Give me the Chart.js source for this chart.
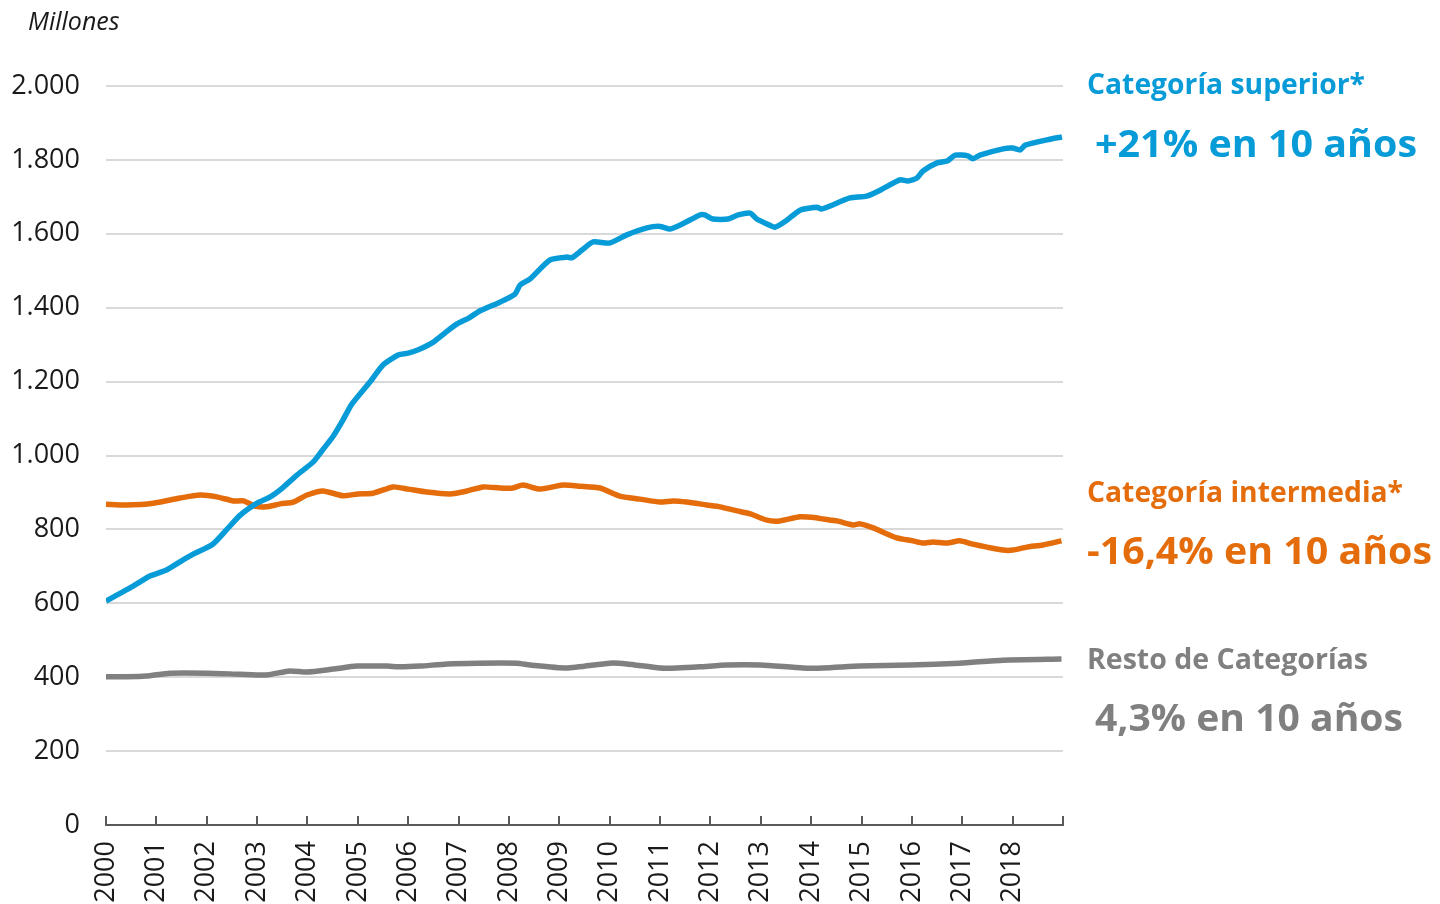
<!DOCTYPE html>
<html>
<head>
<meta charset="utf-8">
<script src="https://cdn.jsdelivr.net/npm/chart.js@4.4.1/dist/chart.umd.min.js"></script>
<style>
  html, body { margin: 0; padding: 0; background: #fff; overflow: hidden; }
  #wrap { width: 1440px; height: 904px; }
</style>
</head>
<body>
<div id="wrap"><canvas id="passengerChart"></canvas></div>
<script>
// Años de los ticks del eje X
const yearTicks = [2000, 2001, 2002, 2003, 2004, 2005, 2006, 2007, 2008, 2009,
                   2010, 2011, 2012, 2013, 2014, 2015, 2016, 2017, 2018];

// Categoría superior (millones)
const superiorYears = [2000.00, 2000.25, 2000.47, 2000.70, 2000.87, 2001.20, 2001.50, 2001.73, 2002.12, 2002.40,
  2002.66, 2003.00, 2003.26, 2003.50, 2003.79, 2004.11, 2004.30, 2004.51, 2004.70, 2004.88,
  2005.24, 2005.50, 2005.80, 2006.00, 2006.20, 2006.50, 2006.75, 2006.97, 2007.20, 2007.42,
  2007.82, 2008.12, 2008.22, 2008.42, 2008.81, 2009.15, 2009.25, 2009.45, 2009.67, 2010.00,
  2010.34, 2010.74, 2011.00, 2011.20, 2011.45, 2011.79, 2011.89, 2012.05, 2012.35, 2012.55,
  2012.79, 2012.92, 2013.10, 2013.28, 2013.50, 2013.78, 2014.12, 2014.20, 2014.37, 2014.77,
  2015.10, 2015.37, 2015.76, 2015.92, 2016.10, 2016.22, 2016.50, 2016.70, 2016.86, 2017.11,
  2017.21, 2017.35, 2017.81, 2018.00, 2018.15, 2018.25, 2018.74, 2018.98];
const superiorValues = [606, 625, 641, 660, 674, 690, 715, 733, 760, 800,
  838, 871, 888, 912, 947, 982, 1015, 1052, 1095, 1139,
  1199, 1245, 1272, 1277, 1286, 1307, 1334, 1356, 1372, 1391,
  1415, 1437, 1461, 1478, 1529, 1537, 1535, 1556, 1578, 1575,
  1597, 1616, 1620, 1613, 1627, 1651, 1651, 1640, 1640, 1651,
  1656, 1640, 1628, 1618, 1635, 1664, 1672, 1667, 1675, 1697,
  1702, 1718, 1746, 1743, 1751, 1770, 1792, 1797, 1813, 1811,
  1803, 1813, 1830, 1832, 1827, 1840, 1856, 1862];

// Categoría intermedia (millones)
const intermediaYears = [2000.00, 2000.40, 2000.94, 2001.47, 2001.87, 2002.20, 2002.53, 2002.73, 2002.96, 2003.19,
  2003.46, 2003.72, 2003.99, 2004.31, 2004.71, 2005.00, 2005.30, 2005.70, 2006.00, 2006.37,
  2006.83, 2007.17, 2007.49, 2007.82, 2008.08, 2008.28, 2008.62, 2009.07, 2009.41, 2009.81,
  2010.20, 2010.60, 2011.00, 2011.26, 2011.53, 2011.93, 2012.19, 2012.53, 2012.79, 2013.12,
  2013.38, 2013.78, 2014.12, 2014.24, 2014.51, 2014.83, 2014.97, 2015.23, 2015.70, 2016.02,
  2016.22, 2016.42, 2016.70, 2016.95, 2017.21, 2017.49, 2017.81, 2018.00, 2018.28, 2018.60,
  2018.97];
const intermediaValues = [868, 866, 871, 885, 893, 888, 877, 877, 863, 861,
  869, 874, 893, 904, 891, 896, 898, 915, 909, 901,
  896, 904, 915, 912, 912, 920, 909, 920, 917, 912,
  890, 882, 874, 877, 874, 866, 861, 850, 842, 825,
  823, 834, 831, 828, 823, 812, 815, 804, 777, 769,
  763, 766, 763, 769, 760, 752, 744, 744, 752, 758,
  769];

// Resto de categorías (millones)
const restoYears = [2000.00, 2000.40, 2000.80, 2001.27, 2002.00, 2002.66, 2003.19, 2003.65, 2003.99, 2004.51,
  2004.98, 2005.58, 2005.84, 2006.23, 2006.77, 2007.37, 2008.16, 2008.42, 2009.15, 2010.00,
  2010.34, 2011.00, 2011.33, 2011.79, 2012.33, 2012.99, 2013.84, 2014.24, 2014.97, 2015.96,
  2016.95, 2017.81, 2018.97];
const restoValues = [401, 401, 403, 411, 411, 408, 406, 417, 414, 422,
  430, 430, 428, 430, 436, 438, 438, 433, 425, 438,
  436, 425, 425, 428, 433, 433, 425, 425, 430, 433,
  438, 446, 449];

const BLUE = '#079bd8';
const ORANGE = '#e46c0a';
const GREY = '#808080';

function toPoints(xs, ys) {
  return xs.map((x, i) => ({ x: x, y: ys[i] }));
}

// Textos a la derecha del gráfico y unidad
const annotations = [
  { text: 'Categoría superior*', color: BLUE, x: 1087, y: 86, size: 28, width: 278 },
  { text: '+21% en 10 años', color: BLUE, x: 1095, y: 146, size: 38, width: 322 },
  { text: 'Categoría intermedia*', color: ORANGE, x: 1087, y: 494, size: 28, width: 316 },
  { text: '-16,4% en 10 años', color: ORANGE, x: 1087, y: 553, size: 38, width: 345 },
  { text: 'Resto de Categorías', color: GREY, x: 1087, y: 661, size: 28, width: 281 },
  { text: '4,3% en 10 años', color: GREY, x: 1095, y: 720, size: 38, width: 308 }
];

const extrasPlugin = {
  id: 'extras',
  afterDraw(chart) {
    const ctx = chart.ctx;
    const xs = chart.scales.x;
    const area = chart.chartArea;
    ctx.save();
    // marcas del eje X hacia arriba
    ctx.strokeStyle = '#595959';
    ctx.lineWidth = 2;
    for (let yr = 2000; yr <= 2019; yr++) {
      const px = Math.round(xs.getPixelForValue(yr));
      ctx.beginPath();
      ctx.moveTo(px, area.bottom - 9);
      ctx.lineTo(px, area.bottom);
      ctx.stroke();
    }
    // unidad
    ctx.fillStyle = '#1a1a1a';
    ctx.font = 'italic 25px "Open Sans"';
    ctx.textBaseline = 'middle';
    ctx.fillText('Millones', 28, 23);
    // anotaciones
    annotations.forEach(a => {
      ctx.font = 'bold ' + a.size + 'px "Open Sans"';
      ctx.fillStyle = a.color;
      const w = ctx.measureText(a.text).width;
      const s = Math.min(1.1, a.width / w);
      ctx.save();
      ctx.translate(a.x, a.y);
      ctx.scale(s, 1);
      ctx.fillText(a.text, 0, 0);
      ctx.restore();
    });
    ctx.restore();
  }
};

const ctx = document.getElementById('passengerChart').getContext('2d');

const passengerChart = new Chart(ctx, {
  type: 'line',
  data: {
    datasets: [
      {
        label: 'Categoría superior',
        data: toPoints(superiorYears, superiorValues),
        borderColor: BLUE,
        borderWidth: 5.5,
        pointRadius: 0,
        tension: 0.2
      },
      {
        label: 'Categoría intermedia',
        data: toPoints(intermediaYears, intermediaValues),
        borderColor: ORANGE,
        borderWidth: 5.5,
        pointRadius: 0,
        tension: 0.2
      },
      {
        label: 'Resto de Categorías',
        data: toPoints(restoYears, restoValues),
        borderColor: GREY,
        borderWidth: 5.5,
        pointRadius: 0,
        tension: 0.2
      }
    ]
  },
  options: {
    responsive: true,
    maintainAspectRatio: false,
    animation: false,
    layout: {
      padding: { left: 0, right: 377, top: 86, bottom: 0 }
    },
    plugins: {
      legend: { display: false },
      tooltip: { enabled: false }
    },
    scales: {
      x: {
        type: 'linear',
        min: 2000,
        max: 2019,
        afterFit: scale => { scale.height = 79; },
        afterBuildTicks: scale => {
          scale.ticks = yearTicks.concat([2019]).map(v => ({ value: v }));
        },
        ticks: {
          autoSkip: false,
          minRotation: 90,
          maxRotation: 90,
          padding: 16,
          color: '#1a1a1a',
          font: { family: 'Open Sans', size: 27 },
          callback: v => (yearTicks.includes(v) ? String(v) : '')
        },
        grid: { display: false, drawTicks: false },
        border: { display: true, color: '#595959', width: 2 }
      },
      y: {
        min: 0,
        max: 2000,
        afterFit: scale => { scale.width = 106; },
        ticks: {
          stepSize: 200,
          padding: 26,
          color: '#1a1a1a',
          font: { family: 'Open Sans', size: 27 },
          callback: v => v.toLocaleString('es-ES', { useGrouping: 'always' }).replace(/\s/g, '.')
        },
        grid: { color: '#d9d9d9', lineWidth: 2, drawTicks: false },
        border: { display: false }
      }
    }
  },
  plugins: [extrasPlugin]
});
</script>
</body>
</html>
